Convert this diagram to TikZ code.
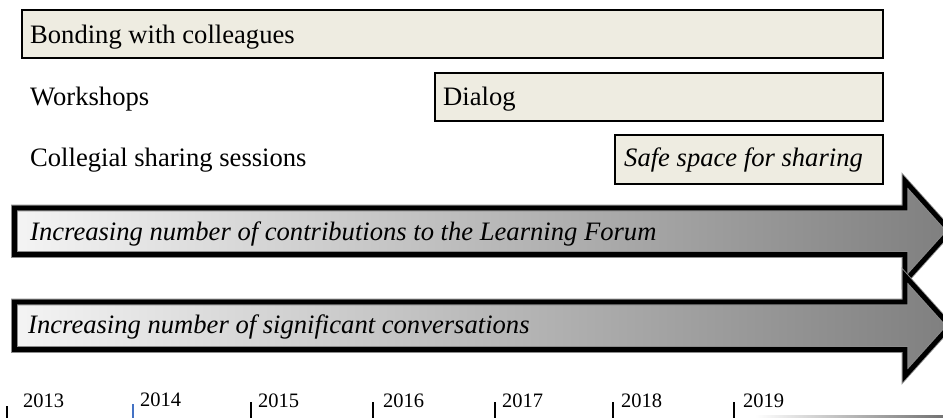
\documentclass[tikz,border=0pt]{standalone}
\usepackage{fontspec}
\setmainfont{Liberation Serif}
\definecolor{boxfill}{HTML}{EEECE1}
\definecolor{tickblue}{HTML}{4472C4}
\definecolor{arrowlight}{HTML}{F4F4F4}
\definecolor{arrowdark}{HTML}{7F7F7F}
\tikzset{
  phase/.style={draw=black, line width=2pt, fill=boxfill, inner sep=0pt, anchor=north west},
  lbl/.style={anchor=base west, inner sep=0pt, font=\fontsize{26.6}{30}\selectfont},
  itlbl/.style={lbl, font=\fontsize{26.6}{30}\selectfont\itshape},
  yearlbl/.style={anchor=base west, inner sep=0pt, font=\fontsize{20.5}{24}\selectfont},
  trend/.style={left color=arrowlight, right color=arrowdark},
  trendhalo/.style={draw=black!45, line width=6.6pt, line join=miter},
  trendedge/.style={draw=black, line width=4.8pt, line join=miter},
  yeartick/.style={draw=black, line width=1.4pt},
}
\begin{document}
\begin{tikzpicture}[x=1pt, y=-1pt]
\useasboundingbox (0,0) rectangle (943,418);
\clip (0,0) rectangle (943,418);

% phase boxes
\node[phase, minimum width=861pt, minimum height=48pt] (bond) at (21,9) {};
\node[lbl] (bondt) at (30,43) {Bonding with colleagues};

\node[lbl] (work) at (30,105) {Workshops};
\node[phase, minimum width=448pt, minimum height=48pt] (dialog) at (434,72) {};
\node[lbl] (dialogt) at (443,105) {Dialog};

\node[lbl] (coll) at (30,166) {Collegial sharing sessions};
\node[phase, minimum width=268pt, minimum height=49pt] (safe) at (614,134) {};
\node[itlbl] (safet) at (624,166) {Safe space for sharing};

% trend arrows
\def\trendarrow#1#2#3{%
  \path[trend] (14.5,#1) -- (905,#1) -- (905,#3-50) -- (950,#3) -- (905,#3+50)
    -- (905,#2) -- (14.5,#2) -- cycle;
  \path[trendhalo] (14.5,#1) -- (905,#1) -- (905,#3-50) -- (950,#3) -- (905,#3+50)
    -- (905,#2) -- (14.5,#2) -- cycle;
  \path[trendedge] (14.5,#1) -- (905,#1) -- (905,#3-50) -- (950,#3) -- (905,#3+50)
    -- (905,#2) -- (14.5,#2) -- cycle;}
\trendarrow{208}{254.5}{231}
\trendarrow{302}{349.5}{326}
\node[itlbl] (contrib) at (30,240) {Increasing number of contributions to the Learning Forum};
\node[itlbl] (conv) at (28,333) {Increasing number of significant conversations};

% time axis
\draw[yeartick] (7,406) -- (7,418);
\draw[yeartick, draw=tickblue] (133,404) -- (133,418);
\foreach \x in {251,373,495,613,734} \draw[yeartick] (\x,402) -- (\x,418);
\node[yearlbl] (y13) at (23,407) {2013};
\node[yearlbl] (y14) at (140,406) {2014};
\node[yearlbl] (y15) at (258,407) {2015};
\node[yearlbl] (y16) at (383,407) {2016};
\node[yearlbl] (y17) at (502,407) {2017};
\node[yearlbl] (y18) at (621,407) {2018};
\node[yearlbl] (y19) at (743,407) {2019};

% baseline strip at the lower right
\shade[left color=white, right color=black!55] (755,415.5) rectangle (943,417.5);
\end{tikzpicture}
\end{document}
